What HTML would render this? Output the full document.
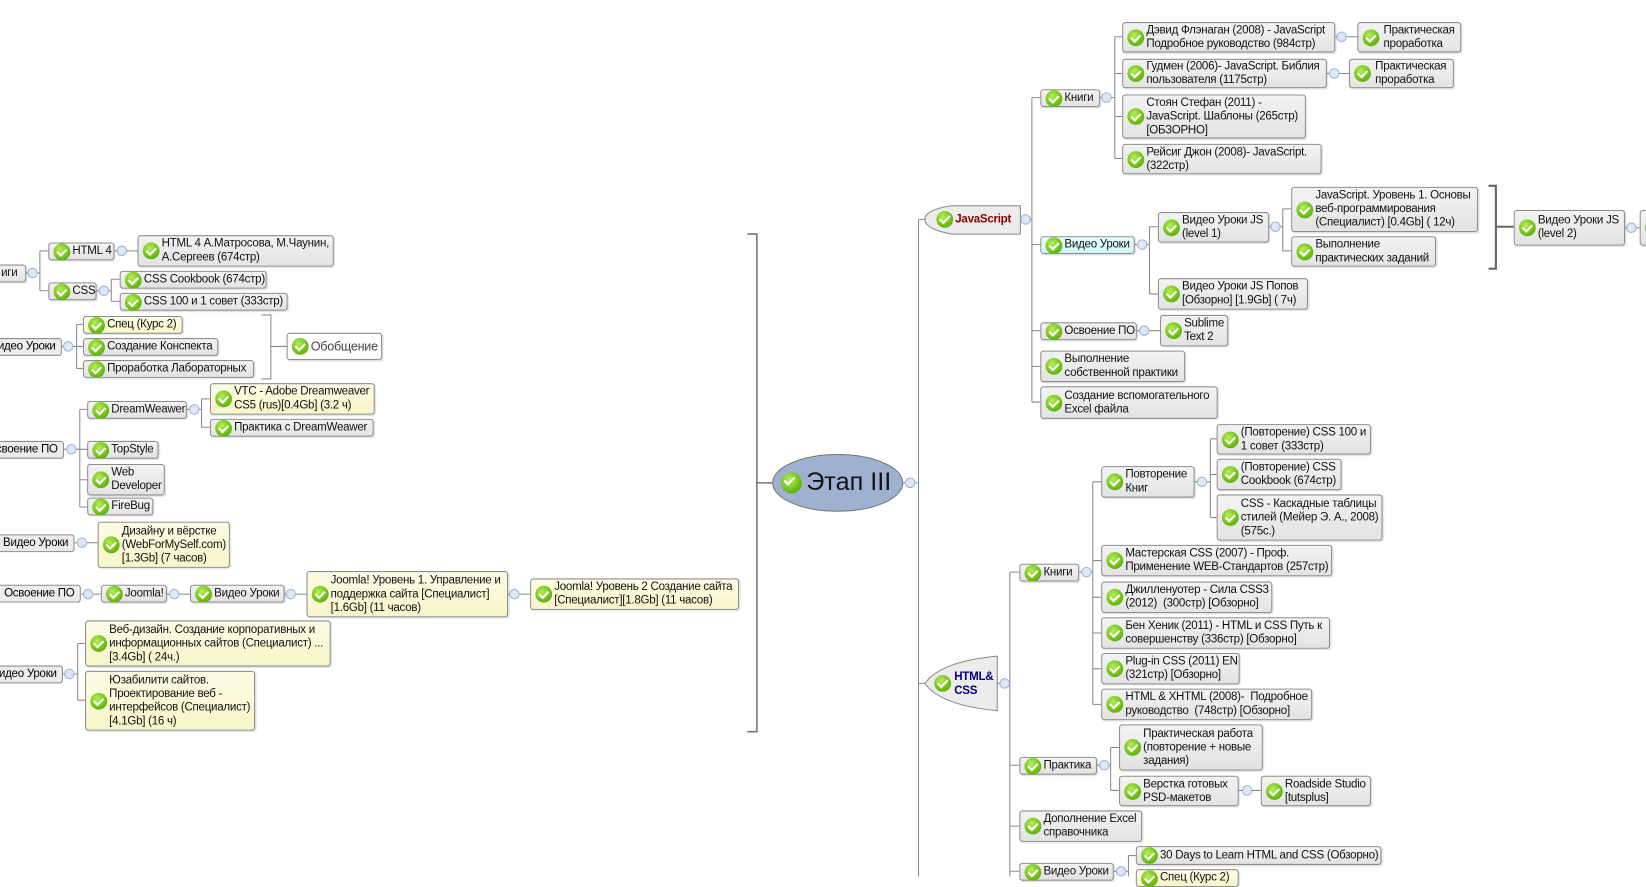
<!DOCTYPE html>
<html><head><meta charset="utf-8">
<style>
html,body{margin:0;padding:0;background:#fff;overflow:hidden;width:1646px;height:876px}
#w{position:absolute;left:0;top:0;width:1568px;height:835px;transform:scale(1.04974);transform-origin:0 0}
svg{position:absolute;left:0;top:0}
.n{position:absolute;box-sizing:border-box;border:1px solid #8e8e8e;border-radius:3px;background:linear-gradient(#f3f3f3,#e3e3e3);font:11px/13px "Liberation Sans","DejaVu Sans",sans-serif;letter-spacing:-0.25px;color:#111;padding-left:22px;display:flex;align-items:center;white-space:nowrap;box-shadow:1px 1px 1px rgba(0,0,0,.12)}
.y{background:linear-gradient(#fdfce6,#f7f5c8)}
.c{background:linear-gradient(#e9fdfd,#cdf6f6)}
.wt{background:#fff}
.i,.n::before{content:"";position:absolute;left:4px;top:50%;margin-top:-8px;width:16px;height:16px;border-radius:50%;background:radial-gradient(circle at 40% 35%,#b6ee5a,#6cbd12 60%,#4e9a06)}
.n::after{content:"";position:absolute;left:9px;top:50%;margin-top:-5px;width:4px;height:7px;border:solid #fff;border-width:0 2px 2px 0;transform:rotate(45deg)}
.i::after{content:"";position:absolute;left:5px;top:2px;width:4px;height:8px;border:solid #fff;border-width:0 2px 2px 0;transform:rotate(45deg)}
.t{position:absolute;font-family:"Liberation Sans","DejaVu Sans",sans-serif;white-space:nowrap;letter-spacing:-0.25px}
</style></head><body><div id="w">
<svg width="1568" height="835" viewBox="0 0 1568 835">
<g fill="none" stroke="#8a8a8a" stroke-width="1">
<path d="M860 460H875M875 209V835M875 209H882M875 651H882"/>
<path d="M712 223H721V697H712M721 460H737" stroke="#777" stroke-width="1.5"/>
<path d="M972 209H983M983 93V383M983 93H991M983 233H991M983 315H991M983 349H991M983 383H991"/>
<path d="M1048 93H1062M1062 35V151M1062 35H1069M1062 70H1069M1062 111H1069M1062 151H1069"/>
<path d="M1272 35H1293M1264 70H1285"/>
<path d="M1081 233H1095M1095 216V280M1095 216H1103M1095 280H1103"/>
<path d="M1209 216H1222M1222 199V239M1222 199H1230M1222 239H1230"/>
<path d="M1418 177H1425V256H1418M1425 216H1442" stroke="#666" stroke-width="2"/>
<path d="M1548 217H1562M1083 315H1105"/>
<path d="M950 651H962M962 545V835M962 545H971M962 729H971M962 787H971M962 830H971"/>
<path d="M1028 545H1041M1041 459V671M1041 459H1049M1041 534H1049M1041 569H1049M1041 603H1049M1041 637H1049M1041 671H1049"/>
<path d="M1138 459H1153M1153 418V493M1153 418H1159M1153 452H1159M1153 493H1159"/>
<path d="M1045 729H1058M1058 712V753M1058 712H1066M1058 753H1066M1180 753H1201"/>
<path d="M1061 830H1075M1075 815V840M1075 815H1082"/>
<path d="M25 260H38M38 239V277M38 239H46M38 277H46M109 239H131"/>
<path d="M92 277H106M106 266V287M106 266H114M106 287H114"/>
<path d="M59 330H73M73 309V351M73 309H79M73 330H79M73 351H79"/>
<path d="M249 300H258V361H249M258 330H273"/>
<path d="M61 428H76M76 390V483M76 390H83M76 428H83M76 457H83M76 483H83"/>
<path d="M178 390H192M192 380V407M192 380H200M192 407H200"/>
<path d="M71 517H93M77 566H96M159 566H181M271 566H292M484 566H505"/>
<path d="M60 642H74M74 613V667M74 613H81M74 667H81"/>
</g>
<ellipse cx="798" cy="460" rx="62" ry="27" fill="#9fb1d0" stroke="#777"/>
<path d="M972 196H906Q881 200 881 209Q881 218 906 223H972Z" fill="#ececec" stroke="#888"/>
<path d="M950 625Q896 630 881 651Q896 672 950 677Z" fill="#ececec" stroke="#888"/>
<g fill="#dde7f7" stroke="#9fb2d6">
<circle cx="867" cy="460" r="4.5"/><circle cx="977" cy="209" r="4.5"/><circle cx="1054" cy="93" r="4.5"/><circle cx="1278" cy="35" r="4.5"/><circle cx="1271" cy="70" r="4.5"/><circle cx="1088" cy="233" r="4.5"/><circle cx="1215" cy="216" r="4.5"/><circle cx="1554" cy="217" r="4.5"/><circle cx="1090" cy="315" r="4.5"/><circle cx="957" cy="651" r="4.5"/><circle cx="1035" cy="545" r="4.5"/><circle cx="1145" cy="459" r="4.5"/><circle cx="1052" cy="729" r="4.5"/><circle cx="1188" cy="753" r="4.5"/><circle cx="1068" cy="830" r="4.5"/>
<circle cx="31" cy="260" r="4.5"/><circle cx="116" cy="239" r="4.5"/><circle cx="99" cy="277" r="4.5"/><circle cx="65" cy="330" r="4.5"/><circle cx="68" cy="428" r="4.5"/><circle cx="185" cy="390" r="4.5"/><circle cx="78" cy="517" r="4.5"/><circle cx="84" cy="566" r="4.5"/><circle cx="166" cy="566" r="4.5"/><circle cx="277" cy="566" r="4.5"/><circle cx="490" cy="566" r="4.5"/><circle cx="66" cy="642" r="4.5"/>
</g>
</svg>
<span class="i" style="left:744px;top:450px;width:20px;height:20px;margin:0"></span>
<div class="t" style="left:768px;top:446px;font-size:24px;line-height:28px;color:#111;letter-spacing:0">Этап III</div>
<span class="i" style="left:892px;top:201px;margin:0"></span>
<div class="t" style="left:910px;top:203px;font-size:11px;font-weight:bold;color:#8b0000">JavaScript</div>
<span class="i" style="left:890px;top:643px;margin:0"></span>
<div class="t" style="left:909px;top:639px;font-size:11px;line-height:13px;font-weight:bold;color:#00007a">HTML&amp;<br>CSS</div>

<div class="n" style="left:991px;top:85px;width:57px;height:17px">Книги</div>
<div class="n" style="left:1069px;top:21px;width:203px;height:29px">Дэвид Флэнаган (2008) - JavaScript<br>Подробное руководство (984стр)</div>
<div class="n" style="left:1293px;top:21px;width:99px;height:29px;padding-left:24px">Практическая<br>проработка</div>
<div class="n" style="left:1069px;top:56px;width:195px;height:28px">Гудмен (2006)- JavaScript. Библия<br>пользователя (1175стр)</div>
<div class="n" style="left:1285px;top:56px;width:100px;height:28px;padding-left:24px">Практическая<br>проработка</div>
<div class="n" style="left:1069px;top:90px;width:175px;height:42px">Стоян Стефан (2011) -<br>JavaScript. Шаблоны (265стр)<br>[ОБЗОРНО]</div>
<div class="n" style="left:1069px;top:137px;width:190px;height:29px">Рейсиг Джон (2008)- JavaScript.<br>(322стр)</div>
<div class="n c" style="left:991px;top:225px;width:90px;height:17px">Видео Уроки</div>
<div class="n" style="left:1103px;top:202px;width:106px;height:29px">Видео Уроки JS<br>(level 1)</div>
<div class="n" style="left:1230px;top:178px;width:178px;height:43px">JavaScript. Уровень 1. Основы<br>веб-программирования<br>(Специалист) [0.4Gb] ( 12ч)</div>
<div class="n" style="left:1230px;top:225px;width:138px;height:29px">Выполнение<br>практических заданий</div>
<div class="n" style="left:1442px;top:200px;width:106px;height:34px">Видео Уроки JS<br>(level 2)</div>
<div class="n" style="left:1562px;top:200px;width:30px;height:34px"></div>
<div class="n" style="left:1103px;top:265px;width:143px;height:30px">Видео Уроки JS Попов<br>[Обзорно] [1.9Gb] ( 7ч)</div>
<div class="n" style="left:991px;top:307px;width:92px;height:17px">Освоение ПО</div>
<div class="n" style="left:1105px;top:300px;width:65px;height:30px">Sublime<br>Text 2</div>
<div class="n" style="left:991px;top:334px;width:138px;height:30px">Выполнение<br>собственной практики</div>
<div class="n" style="left:991px;top:368px;width:169px;height:31px">Создание вспомогательного<br>Excel файла</div>
<div class="n" style="left:971px;top:537px;width:57px;height:17px">Книги</div>
<div class="n" style="left:1049px;top:444px;width:89px;height:30px">Повторение<br>Книг</div>
<div class="n" style="left:1159px;top:404px;width:147px;height:29px">(Повторение) CSS 100 и<br>1 совет (333стр)</div>
<div class="n" style="left:1159px;top:437px;width:119px;height:30px">(Повторение) CSS<br>Cookbook (674стр)</div>
<div class="n" style="left:1159px;top:471px;width:158px;height:44px">CSS - Каскадные таблицы<br>стилей (Мейер Э. А., 2008)<br>(575с.)</div>
<div class="n" style="left:1049px;top:519px;width:220px;height:30px">Мастерская CSS (2007) - Проф.<br>Применение WEB-Стандартов (257стр)</div>
<div class="n" style="left:1049px;top:554px;width:163px;height:30px">Джилленуотер - Сила CSS3<br>(2012)&nbsp; (300стр) [Обзорно]</div>
<div class="n" style="left:1049px;top:588px;width:218px;height:30px">Бен Хеник (2011) - HTML и CSS Путь к<br>совершенству (336стр) [Обзорно]</div>
<div class="n" style="left:1049px;top:622px;width:132px;height:30px">Plug-in CSS (2011) EN<br>(321стр) [Обзорно]</div>
<div class="n" style="left:1049px;top:656px;width:201px;height:30px">HTML &amp; XHTML (2008)-&nbsp; Подробное<br>руководство&nbsp; (748стр) [Обзорно]</div>
<div class="n" style="left:971px;top:721px;width:74px;height:17px">Практика</div>
<div class="n" style="left:1066px;top:690px;width:137px;height:44px">Практическая работа<br>(повторение + новые<br>задания)</div>
<div class="n" style="left:1066px;top:739px;width:114px;height:29px">Верстка готовых<br>PSD-макетов</div>
<div class="n" style="left:1201px;top:739px;width:105px;height:29px">Roadside Studio<br>[tutsplus]</div>
<div class="n" style="left:971px;top:772px;width:117px;height:30px">Дополнение Excel<br>справочника</div>
<div class="n" style="left:971px;top:822px;width:90px;height:17px">Видео Уроки</div>
<div class="n" style="left:1082px;top:806px;width:234px;height:18px">30 Days to Learn HTML and CSS (Обзорно)</div>
<div class="n y" style="left:1082px;top:828px;width:98px;height:17px">Спец (Курс 2)</div>
<div class="n" style="left:-30px;top:252px;width:55px;height:17px;padding-left:2px">&nbsp;&nbsp;&nbsp;&nbsp;&nbsp;&nbsp;&nbsp;&nbsp;&nbsp;&nbsp;иги</div>
<div class="n" style="left:46px;top:231px;width:63px;height:17px">HTML 4</div>
<div class="n" style="left:131px;top:224px;width:187px;height:30px">HTML 4 А.Матросова, М.Чаунин,<br>А.Сергеев (674стр)</div>
<div class="n" style="left:46px;top:269px;width:46px;height:17px">CSS</div>
<div class="n" style="left:114px;top:258px;width:140px;height:17px">CSS Cookbook (674стр)</div>
<div class="n" style="left:114px;top:279px;width:160px;height:17px">CSS 100 и 1 совет (333стр)</div>
<div class="t" style="left:-40px;top:322px;width:99px;height:17px;box-sizing:border-box;border:1px solid #8e8e8e;border-radius:3px;background:#ececec;font-size:11px;line-height:15px;text-align:right;padding-right:5px">Видео Уроки</div>
<div class="n y" style="left:79px;top:301px;width:95px;height:17px">Спец (Курс 2)</div>
<div class="n" style="left:79px;top:322px;width:129px;height:17px">Создание Конспекта</div>
<div class="n" style="left:79px;top:343px;width:163px;height:17px">Проработка Лабораторных</div>
<div class="n wt" style="left:273px;top:317px;width:91px;height:26px;font-size:12px;color:#444">Обобщение</div>
<div class="t" style="left:-40px;top:420px;width:101px;height:17px;box-sizing:border-box;border:1px solid #8e8e8e;border-radius:3px;background:#ececec;font-size:11px;line-height:15px;text-align:right;padding-right:5px">Освоение ПО</div>
<div class="n" style="left:83px;top:382px;width:95px;height:17px">DreamWeawer</div>
<div class="n y" style="left:200px;top:365px;width:157px;height:30px">VTC - Adobe Dreamweaver<br>CS5 (rus)[0.4Gb] (3.2 ч)</div>
<div class="n" style="left:200px;top:399px;width:156px;height:17px">Практика с DreamWeawer</div>
<div class="n" style="left:83px;top:420px;width:68px;height:17px">TopStyle</div>
<div class="n" style="left:83px;top:442px;width:74px;height:30px">Web<br>Developer</div>
<div class="n" style="left:83px;top:474px;width:63px;height:17px">FireBug</div>
<div class="t" style="left:-30px;top:509px;width:101px;height:17px;box-sizing:border-box;border:1px solid #8e8e8e;border-radius:3px;background:#ececec;font-size:11px;line-height:15px;text-align:right;padding-right:5px">Видео Уроки</div>
<div class="n y" style="left:93px;top:497px;width:126px;height:44px">Дизайну и вёрстке<br>(WebForMySelf.com)<br>[1.3Gb] (7 часов)</div>
<div class="t" style="left:-30px;top:557px;width:107px;height:17px;box-sizing:border-box;border:1px solid #8e8e8e;border-radius:3px;background:#ececec;font-size:11px;line-height:15px;text-align:right;padding-right:5px">Освоение ПО</div>
<div class="n" style="left:96px;top:557px;width:63px;height:17px">Joomla!</div>
<div class="n" style="left:181px;top:557px;width:90px;height:17px">Видео Уроки</div>
<div class="n y" style="left:292px;top:544px;width:192px;height:44px">Joomla! Уровень 1. Управление и<br>поддержка сайта [Специалист]<br>[1.6Gb] (11 часов)</div>
<div class="n y" style="left:505px;top:551px;width:199px;height:30px">Joomla! Уровень 2 Создание сайта<br>[Специалист][1.8Gb] (11 часов)</div>
<div class="t" style="left:-40px;top:634px;width:100px;height:17px;box-sizing:border-box;border:1px solid #8e8e8e;border-radius:3px;background:#ececec;font-size:11px;line-height:15px;text-align:right;padding-right:5px">Видео Уроки</div>
<div class="n y" style="left:81px;top:591px;width:234px;height:44px">Веб-дизайн. Создание корпоративных и<br>информационных сайтов (Специалист) ...<br>[3.4Gb] ( 24ч.)</div>
<div class="n y" style="left:81px;top:639px;width:162px;height:57px">Юзабилити сайтов.<br>Проектирование веб -<br>интерфейсов (Специалист)<br>[4.1Gb] (16 ч)</div>
</div></body></html>
